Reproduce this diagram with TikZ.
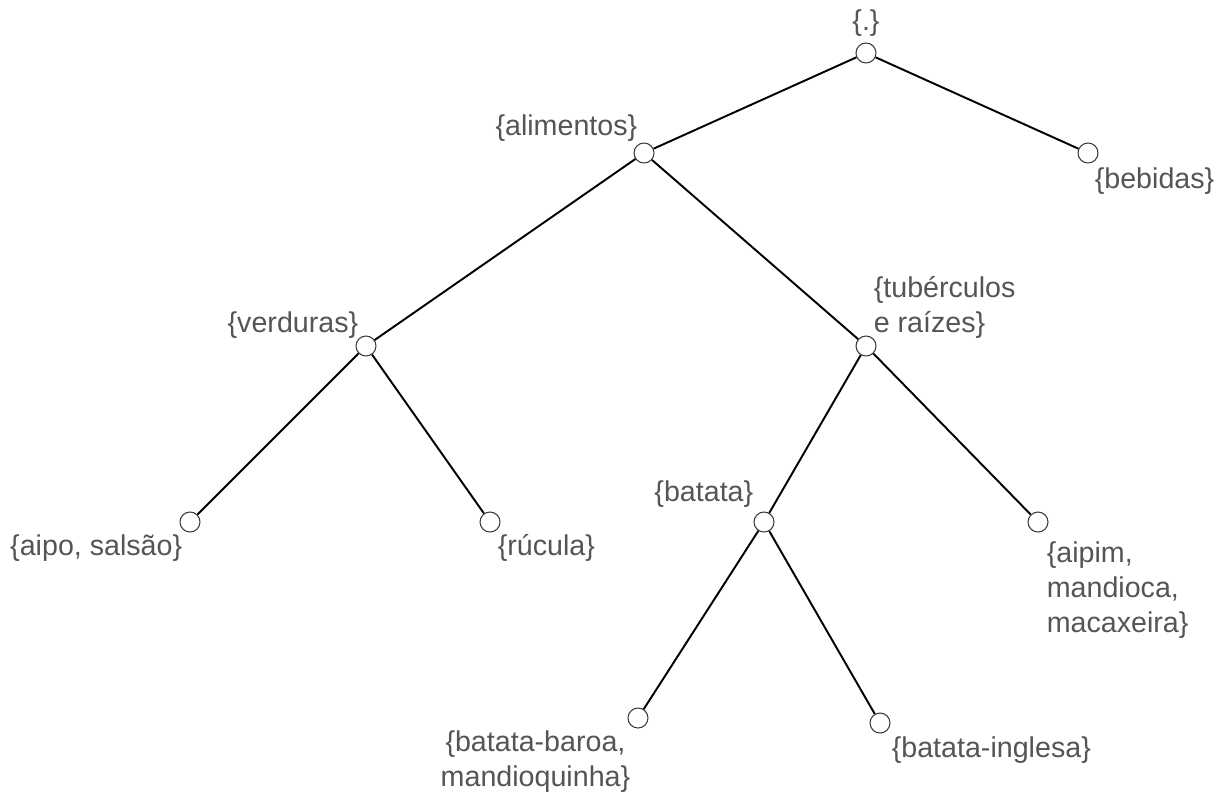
\documentclass[tikz,border=0pt]{standalone}
\usepackage{fontspec}
\setmainfont{Liberation Sans}
\usepackage{tikz}
\usetikzlibrary{positioning}
\definecolor{labelgray}{RGB}{85,85,85}
\definecolor{ringgray}{RGB}{60,60,60}
\tikzset{
	vertex/.style={circle, draw=ringgray, fill=white, line width=0.6pt, minimum size=0.4cm, inner sep=0pt},
	every label/.style={inner sep=0pt, text=labelgray, font=\fontsize{16.3pt}{19.9pt}\selectfont},
	branch/.style={line width=1.1pt, black}
}
\begin{document}
\begin{tikzpicture}[x=0.02cm, y=-0.02cm]
	\useasboundingbox (0,0) rectangle (1226,792);
	\node [vertex](root_node) at (866,53) [label={[label distance=0.12cm]above:\{.\}}]{};
	\node [vertex](alimentos_node) at (644,153) [label={[anchor=south east, xshift=0.02cm, yshift=0.08cm]135:\{alimentos\}}]{};
	\node [vertex](bebidas_node) at (1088,153) [label={[anchor=north west, xshift=-0.02cm, yshift=-0.14cm]-45:\{bebidas\}}]{};
	\node [vertex](verduras_node) at (366,346) [label={[anchor=south east]135:\{verduras\}}]{};
	\node [vertex](tuberculos_node) at (866,346) [label={[anchor=south west, align=left]45:\{tubérculos\\e raízes\}}]{};
	\node [vertex](aipo_node) at (190,522) [label={[anchor=north east, yshift=-0.1cm]-135:\{aipo, salsão\}}]{};
	\node [vertex](rucula_node) at (490,522) [label={[anchor=north west, yshift=-0.1cm]-45:\{rúcula\}}]{};
	\node [vertex](batata_node) at (764,522) [label={[anchor=south east, xshift=-0.06cm, yshift=0.14cm]135:\{batata\}}]{};
	\node [vertex](aipim_node) at (1038,522) [label={[anchor=north west, xshift=0.02cm, yshift=-0.24cm, align=left]-45:\{aipim,\\mandioca,\\macaxeira\}}]{};
	\node [vertex](baroa_node) at (638,718) [label={[anchor=north east, yshift=-0.1cm, align=center]-135:\{batata-baroa,\\mandioquinha\}}]{};
	\node [vertex](inglesa_node) at (880,723) [label={[anchor=north west, xshift=0.08cm, yshift=-0.12cm]-45:\{batata-inglesa\}}]{};
	\draw [branch] (root_node) -- (alimentos_node);
	\draw [branch] (root_node) -- (bebidas_node);
	\draw [branch] (alimentos_node) -- (verduras_node);
	\draw [branch] (alimentos_node) -- (tuberculos_node);
	\draw [branch] (verduras_node) -- (aipo_node);
	\draw [branch] (verduras_node) -- (rucula_node);
	\draw [branch] (tuberculos_node) -- (batata_node);
	\draw [branch] (tuberculos_node) -- (aipim_node);
	\draw [branch] (batata_node) -- (baroa_node);
	\draw [branch] (batata_node) -- (inglesa_node);
\end{tikzpicture}
\end{document}
